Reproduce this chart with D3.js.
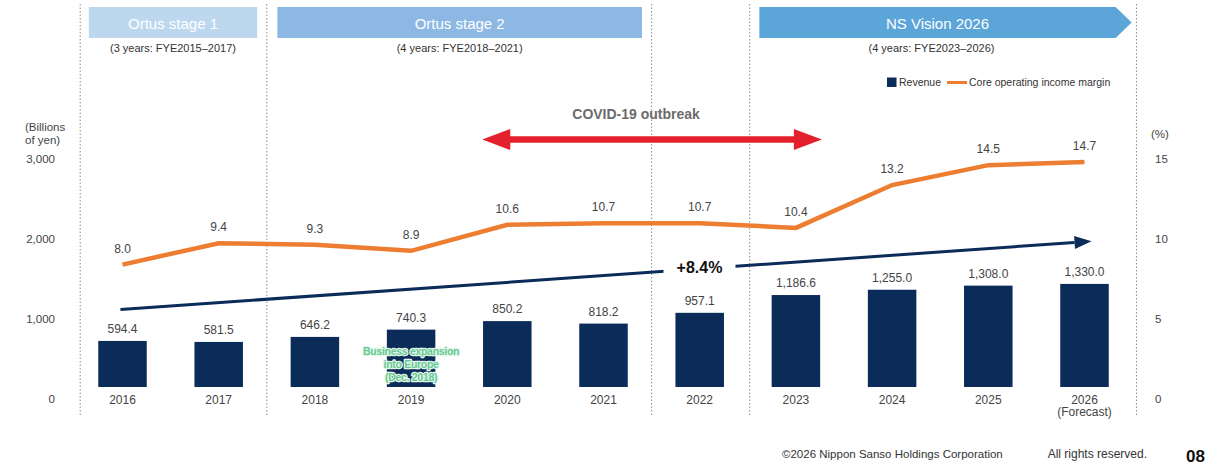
<!doctype html>
<html>
  <head>
    <meta charset="utf-8">
    <title>Revenue and core operating income margin</title>
    <style>
      body { margin: 0; background: #fff; }
      svg { display: block; font-family: "Liberation Sans", Arial, sans-serif; }
      .tick-label { font-size: 11.5px; fill: #444; }
      .val { font-size: 12px; fill: #444; text-anchor: middle; }
    </style>
  </head>
  <body>
  <script src="https://d3js.org/d3.v7.min.js" charset="utf-8"></script>
  <script>

    // data
    var years = [2016, 2017, 2018, 2019, 2020, 2021, 2022, 2023, 2024, 2025, 2026];
    var yearLabels = ["2016", "2017", "2018", "2019", "2020", "2021", "2022", "2023", "2024", "2025", "2026"];
    var revenue = [594.4, 581.5, 646.2, 740.3, 850.2, 818.2, 957.1, 1186.6, 1255.0, 1308.0, 1330.0];
    var margin = [8.0, 9.4, 9.3, 8.9, 10.6, 10.7, 10.7, 10.4, 13.2, 14.5, 14.7];
    var leftTicks = [0, 1000, 2000, 3000];
    var rightTicks = [0, 5, 10, 15];

    var stageNames = ["Ortus stage 1", "Ortus stage 2", "NS Vision 2026"];
    var stageNotes = ["(3 years: FYE2015\u20132017)", "(4 years: FYE2018\u20132021)", "(4 years: FYE2023\u20132026)"];
    var stageStart = [2015.65, 2017.61, 2022.62];
    var stageEnd = [2017.40, 2021.40, 2026.49];
    var stageColors = ["#bdd7ee", "#8db8e3", "#5ca5d9"];
    var dividers = [2015.56, 2017.5, 2021.5, 2022.52, 2026.54];

    var covidFrom = 2019.74, covidTo = 2023.27;
    var cagrLabel = "+8.4%";
    var cagrFrom = 1000, cagrTo = 1880;   // in revenue units, read from the arrow ends

    var W = 1217, H = 465;
    var navy = "#0b2b58", orange = "#ed7d31";

    var svg = d3.select("body").append("svg")
      .attr("width", W)
      .attr("height", H);

    var x = d3.scaleLinear().domain([2016, 2026]).range([122.5, 1084.5]);
    var barW = 48.5;

    var yRev = d3.scaleLinear().domain([0, 3000]).range([387, 154.5]);
    var yPct = d3.scaleLinear().domain([0, 15]).range([387, 157.5]);
    // tick labels on the slide sit on their own spacing
    var yTickL = d3.scaleLinear().domain([0, 3000]).range([399, 159]);
    var yTickR = d3.scaleLinear().domain([0, 15]).range([399, 159]);

    // dotted dividers
    svg.selectAll(".divider").data(dividers).enter().append("line")
      .attr("class", "divider")
      .attr("x1", function(d) { return x(d); })
      .attr("x2", function(d) { return x(d); })
      .attr("y1", 4).attr("y2", 417)
      .attr("stroke", "#8a8a8a")
      .attr("stroke-width", 1)
      .attr("stroke-dasharray", "1.5,2");

    // stage banners
    stageNames.forEach(function(name, i) {
      var x0 = x(stageStart[i]), x1 = x(stageEnd[i]), t = 7, b = 38;
      var xc = (x0 + x1) / 2;
      if (i === 2) {
        var xb = x1 - 16;
        xc = (x0 + xb) / 2;
        svg.append("path")
          .attr("d", "M" + x0 + "," + t + "L" + xb + "," + t + "L" + x1 + "," + ((t + b) / 2) +
                     "L" + xb + "," + b + "L" + x0 + "," + b + "Z")
          .attr("fill", stageColors[i]);
      } else {
        svg.append("rect")
          .attr("x", x0).attr("y", t)
          .attr("width", x1 - x0).attr("height", b - t)
          .attr("fill", stageColors[i]);
      }
      svg.append("text")
        .attr("x", xc).attr("y", 28.5)
        .attr("text-anchor", "middle")
        .attr("font-size", 15).attr("fill", "#fff")
        .text(name);
      svg.append("text")
        .attr("x", i === 2 ? xc - 6 : xc).attr("y", 51.5)
        .attr("text-anchor", "middle")
        .attr("font-size", 11).attr("fill", "#333")
        .text(stageNotes[i]);
    });

    // legend
    var lg = svg.append("g").attr("transform", "translate(887,77.5)");
    lg.append("rect").attr("width", 9.5).attr("height", 9.5).attr("fill", navy);
    lg.append("text").attr("x", 12).attr("y", 8.5).attr("font-size", 10.5).attr("fill", "#333").text("Revenue");
    lg.append("line").attr("x1", 60).attr("x2", 80).attr("y1", 5).attr("y2", 5)
      .attr("stroke", orange).attr("stroke-width", 3);
    lg.append("text").attr("x", 82).attr("y", 8.5).attr("font-size", 10.5).attr("fill", "#333")
      .text("Core operating income margin");

    // COVID annotation
    svg.append("text")
      .attr("x", (x(covidFrom) + x(covidTo)) / 2 - 16).attr("y", 119)
      .attr("text-anchor", "middle")
      .attr("font-size", 14).attr("font-weight", "bold").attr("fill", "#6b6b6b")
      .text("COVID-19 outbreak");
    var ax0 = x(covidFrom), ax1 = x(covidTo), ay = 139.5, hl = 28, hh = 10.5, sh = 3.2;
    svg.append("path")
      .attr("d", "M" + ax0 + "," + ay +
                 "L" + (ax0 + hl) + "," + (ay - hh) + "L" + (ax0 + hl) + "," + (ay - sh) +
                 "L" + (ax1 - hl) + "," + (ay - sh) + "L" + (ax1 - hl) + "," + (ay - hh) +
                 "L" + ax1 + "," + ay +
                 "L" + (ax1 - hl) + "," + (ay + hh) + "L" + (ax1 - hl) + "," + (ay + sh) +
                 "L" + (ax0 + hl) + "," + (ay + sh) + "L" + (ax0 + hl) + "," + (ay + hh) + "Z")
      .attr("fill", "#e3202b");

    // axis units
    svg.append("text").attr("class", "tick-label").attr("x", 25).attr("y", 131).attr("font-size", 10.5).text("(Billions");
    svg.append("text").attr("class", "tick-label").attr("x", 25).attr("y", 144).attr("font-size", 10.5).text("of yen)");
    svg.append("text").attr("class", "tick-label").attr("x", 1151).attr("y", 138).attr("font-size", 10.5).text("(%)");

    // left axis labels
    var gl = svg.append("g").attr("transform", "translate(55,0)")
      .call(d3.axisLeft(yTickL).tickValues(leftTicks).tickSize(0).tickPadding(0).tickFormat(d3.format(",")));
    gl.select(".domain").remove();
    gl.selectAll("text").attr("class", "tick-label").attr("font-family", null).attr("font-size", null);

    // right axis labels
    var gr = svg.append("g").attr("transform", "translate(1155,0)")
      .call(d3.axisRight(yTickR).tickValues(rightTicks).tickSize(0).tickPadding(0));
    gr.select(".domain").remove();
    gr.selectAll("text").attr("class", "tick-label").attr("font-family", null).attr("font-size", null);

    // bars
    svg.selectAll(".bar").data(revenue).enter().append("rect")
      .attr("class", "bar")
      .attr("x", function(d, i) { return x(years[i]) - barW / 2; })
      .attr("y", function(d) { return yRev(d); })
      .attr("width", barW)
      .attr("height", function(d) { return yRev(0) - yRev(d); })
      .attr("fill", navy);

    svg.selectAll(".rev-label").data(revenue).enter().append("text")
      .attr("class", "val")
      .attr("x", function(d, i) { return x(years[i]); })
      .attr("y", function(d) { return yRev(d) - 8; })
      .text(function(d) { return d3.format(",.1f")(d); });

    // x labels
    svg.selectAll(".xlab").data(yearLabels).enter().append("text")
      .attr("class", "val")
      .attr("x", function(d, i) { return x(years[i]); })
      .attr("y", 404)
      .text(function(d) { return d; });
    svg.append("text").attr("class", "val").attr("font-size", 10.5)
      .attr("x", x(2026)).attr("y", 416).text("(Forecast)");

    // CAGR arrow
    var cx0 = x(2016) - 2, cy0 = yRev(cagrFrom), cx1 = x(2026) + 7, cy1 = yRev(cagrTo);
    var ang = Math.atan2(cy1 - cy0, cx1 - cx0);
    var hx = cx1 - 17 * Math.cos(ang), hy = cy1 - 17 * Math.sin(ang);
    svg.append("line")
      .attr("x1", cx0).attr("y1", cy0).attr("x2", hx).attr("y2", hy)
      .attr("stroke", navy).attr("stroke-width", 3);
    var px = -Math.sin(ang) * 6.5, py = Math.cos(ang) * 6.5;
    svg.append("path")
      .attr("d", "M" + cx1 + "," + cy1 + "L" + (hx + px) + "," + (hy + py) + "L" + (hx - px) + "," + (hy - py) + "Z")
      .attr("fill", navy);
    var lx = 699.5, ly = cy0 + (cy1 - cy0) * (lx - cx0) / (cx1 - cx0);
    svg.append("rect").attr("x", lx - 36).attr("y", ly - 10).attr("width", 72).attr("height", 18).attr("fill", "#fff");
    svg.append("text")
      .attr("x", lx).attr("y", ly + 4)
      .attr("text-anchor", "middle")
      .attr("font-size", 16).attr("font-weight", "bold").attr("fill", "#111")
      .text(cagrLabel);

    // margin line
    var line = d3.line()
      .x(function(d, i) { return x(years[i]); })
      .y(function(d) { return yPct(d); });
    svg.append("path")
      .datum(margin)
      .attr("d", line)
      .attr("fill", "none")
      .attr("stroke", orange)
      .attr("stroke-width", 4.5);

    svg.selectAll(".pct-label").data(margin).enter().append("text")
      .attr("class", "val")
      .attr("x", function(d, i) { return x(years[i]); })
      .attr("y", function(d) { return yPct(d) - 12; })
      .text(function(d) { return d3.format(".1f")(d); });

    // Europe note
    var note = svg.append("text")
      .attr("text-anchor", "middle")
      .attr("font-size", 10.5).attr("font-weight", "bold")
      .attr("fill", "#66c893").attr("stroke", "#e4f7eb").attr("stroke-width", 2.6)
      .attr("stroke-linejoin", "round")
      .attr("paint-order", "stroke").attr("letter-spacing", -0.3);
    ["Business expansion", "into Europe", "(Dec. 2018)"].forEach(function(t, i) {
      note.append("tspan").attr("x", x(2019)).attr("y", 354.5 + i * 13).text(t);
    });

    // footer
    svg.append("text").attr("x", 782).attr("y", 458).attr("font-size", 11.5).attr("fill", "#333")
      .text("\u00a92026 Nippon Sanso Holdings Corporation");
    svg.append("text").attr("x", 1147).attr("y", 458).attr("text-anchor", "end").attr("font-size", 12).attr("fill", "#333")
      .text("All rights reserved.");
    svg.append("text").attr("x", 1186).attr("y", 462).attr("font-size", 17).attr("font-weight", "bold").attr("fill", "#111")
      .text("08");

  </script>
  </body>
</html>
